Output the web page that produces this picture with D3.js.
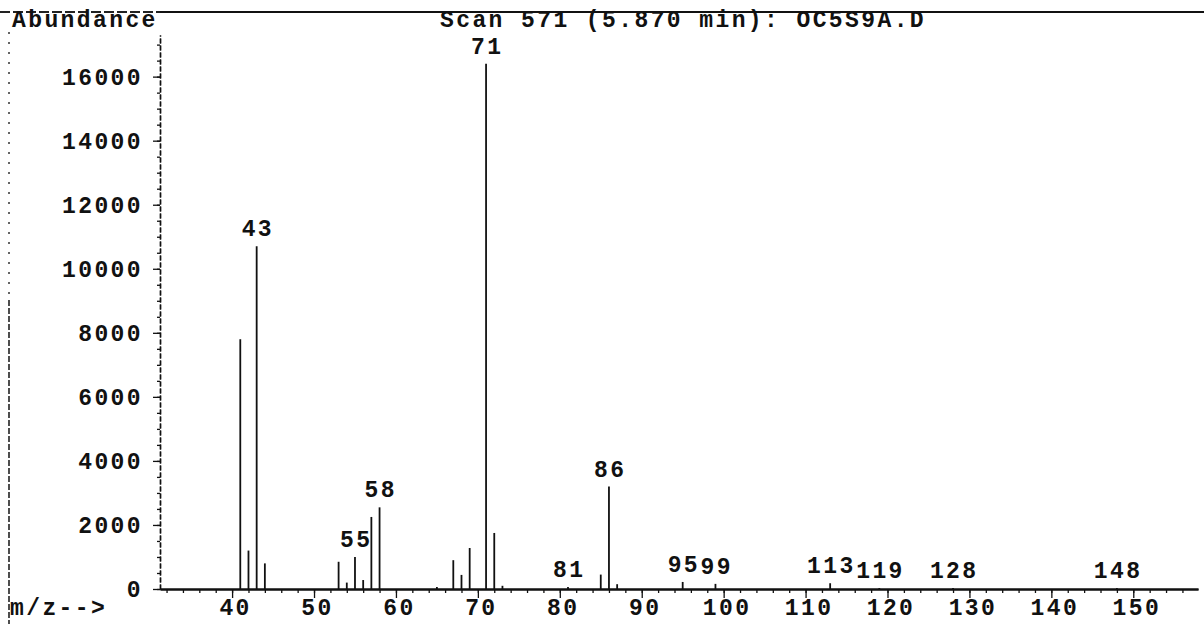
<!DOCTYPE html>
<html>
<head>
<meta charset="utf-8">
<script src="https://cdn.jsdelivr.net/npm/d3@7/dist/d3.min.js"></script>
<style>
  html, body { margin: 0; padding: 0; background: #fff; }
  svg { display: block; }
  text { font-family: "Liberation Mono", "DejaVu Sans Mono", monospace; font-weight: bold; fill: #111; }
</style>
</head>
<body>
<svg id="chart" width="1204" height="624"></svg>
<script>
// Mass spectrum, scan 571 at 5.870 min
const titleText = "Scan 571 (5.870 min): OC5S9A.D";
const yAxisTitle = "Abundance";
const xAxisTitle = "m/z-->";

// m/z of each ion and its abundance
const mzValues   = [41, 42, 43, 44, 53, 54, 55, 56, 57, 58, 65, 67, 68, 69, 71, 72, 73, 81, 85, 86, 87, 95, 99, 113, 119, 128, 148];
const abundances = [7800, 1200, 10700, 800, 850, 200, 1000, 280, 2250, 2550, 60, 900, 440, 1280, 16400, 1750, 100, 60, 450, 3200, 150, 220, 160, 180, 30, 30, 30];

// ions that carry an m/z label
const labelledIons = [43, 55, 58, 71, 81, 86, 95, 99, 113, 119, 128, 148];

// axis ticks
const xMajorTicks = [40, 50, 60, 70, 80, 90, 100, 110, 120, 130, 140, 150];
const xMinorTicks = d3.range(32, 158, 2);
const yMajorTicks = [0, 2000, 4000, 6000, 8000, 10000, 12000, 14000, 16000];
const yMinorTicks = d3.range(0, 17300, 500);

const svg = d3.select("#chart");
const x = d3.scaleLinear().domain([31.2, 157.9]).range([160, 1198]);
const y = d3.scaleLinear().domain([0, 17300]).range([589, 35]);

// page frame: top rule and left edge
svg.append("line").attr("x1", 0).attr("x2", 160).attr("y1", 12).attr("y2", 12)
  .attr("stroke", "#222").attr("stroke-width", 2).attr("stroke-dasharray", "10,3");
svg.append("line").attr("x1", 160).attr("x2", 1204).attr("y1", 12).attr("y2", 12)
  .attr("stroke", "#111").attr("stroke-width", 2);
svg.append("line").attr("x1", 9).attr("x2", 9).attr("y1", 32).attr("y2", 300)
  .attr("stroke", "#333").attr("stroke-width", 1.5).attr("stroke-dasharray", "2,8");
svg.append("line").attr("x1", 9).attr("x2", 9).attr("y1", 300).attr("y2", 624)
  .attr("stroke", "#222").attr("stroke-width", 1.6).attr("stroke-dasharray", "6,2");

// titles
const fontSize = 23, spacing = 2.4;
svg.append("text").attr("x", 12).attr("y", 27).attr("font-size", fontSize)
  .attr("letter-spacing", spacing).text(yAxisTitle);
svg.append("text").attr("x", 440).attr("y", 27).attr("font-size", fontSize)
  .attr("letter-spacing", spacing).text(titleText);
svg.append("text").attr("x", 10).attr("y", 615).attr("font-size", fontSize)
  .attr("letter-spacing", spacing).text(xAxisTitle);

// x axis: minor ticks, then labelled major ticks
const xMinor = svg.append("g").attr("transform", `translate(0,${y(0)})`)
  .call(d3.axisBottom(x).tickValues(xMinorTicks).tickSize(4).tickSizeOuter(0).tickFormat(""));
const xMajor = svg.append("g").attr("transform", `translate(0,${y(0)})`)
  .call(d3.axisBottom(x).tickValues(xMajorTicks).tickSize(9).tickSizeOuter(0).tickPadding(1));
[xMinor, xMajor].forEach(g => {
  g.select(".domain").attr("stroke", "#111").attr("stroke-width", 2);
  g.selectAll(".tick line").attr("stroke", "#111").attr("stroke-width", 1.3);
});
xMajor.selectAll(".tick text").attr("font-size", fontSize).attr("letter-spacing", spacing)
  .attr("font-family", null).attr("fill", "#111").attr("dx", 3);

// y axis: minor ticks, then labelled major ticks
const yMinor = svg.append("g").attr("transform", `translate(${x.range()[0]},0)`)
  .call(d3.axisLeft(y).tickValues(yMinorTicks).tickSize(3).tickSizeOuter(0).tickFormat(""));
const yMajor = svg.append("g").attr("transform", `translate(${x.range()[0]},0)`)
  .call(d3.axisLeft(y).tickValues(yMajorTicks).tickSize(7).tickSizeOuter(0).tickPadding(10).tickFormat(d3.format("d")));
[yMinor, yMajor].forEach(g => {
  g.select(".domain").attr("stroke", "#111").attr("stroke-width", 1.4).attr("stroke-dasharray", "5,2");
  g.selectAll(".tick line").attr("stroke", "#111").attr("stroke-width", 1.3);
});
yMajor.selectAll(".tick text").attr("font-size", fontSize).attr("letter-spacing", spacing)
  .attr("font-family", null).attr("fill", "#111");

// spectrum sticks
const ions = mzValues.map((m, i) => ({ mz: m, ab: abundances[i] }));
svg.append("g").selectAll("line").data(ions).join("line")
  .attr("x1", d => x(d.mz)).attr("x2", d => x(d.mz))
  .attr("y1", y(0)).attr("y2", d => y(d.ab))
  .attr("stroke", "#111").attr("stroke-width", 1.8);

// m/z labels above the labelled ions
svg.append("g").selectAll("text").data(ions.filter(d => labelledIons.includes(d.mz))).join("text")
  .attr("x", d => x(d.mz)).attr("y", d => y(d.ab) - 10)
  .attr("text-anchor", "middle").attr("font-size", fontSize).attr("letter-spacing", spacing)
  .attr("dx", spacing / 2)
  .text(d => d.mz);
</script>
</body>
</html>
